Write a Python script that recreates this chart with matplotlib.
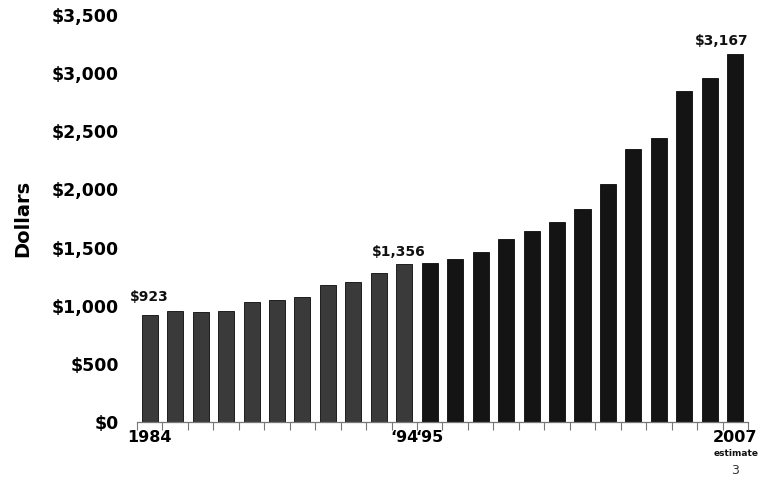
import numpy as np
import matplotlib.pyplot as plt

# average cost per year, 1984 - 2007 (2007 is an estimate)
years = list(range(1984, 2008))
costs = [923, 956, 942, 956, 1031, 1051, 1077, 1174, 1206, 1284, 1356,
         1369, 1406, 1458, 1575, 1644, 1721, 1830, 2045, 2348, 2443,
         2847, 2961, 3167]
tick_labels = {1984: '1984', 1994: '\u201894', 1995: '\u201895', 2007: '2007'}
callouts = {1984: '$923', 1994: '$1,356', 2007: '$3,167'}
y_ticks = [0, 500, 1000, 1500, 2000, 2500, 3000, 3500]

fig = plt.figure(figsize=(7.59, 4.80), dpi=100)
ax = fig.add_axes([0.1805, 0.1208, 0.805, 0.848])

x = np.arange(len(years))
colors = ['#3a3a3a' if y <= 1994 else '#141414' for y in years]
ax.bar(x, costs, width=0.63, color=colors, edgecolor='#0a0a0a', linewidth=0.6)

# callout labels: small nudges so they sit like the original
shift = {1984: (0.0, 90), 1994: (-0.2, 45), 2007: (-0.55, 45)}
for yr, txt in callouts.items():
    i = years.index(yr)
    dx, dy = shift[yr]
    ax.text(x[i] + dx, costs[i] + dy, txt, ha='center', va='bottom',
            fontsize=10, fontweight='bold', color='#111111')

ax.set_xlim(-0.5, len(years) - 0.5)
ax.set_ylim(0, 3500)

# tick marks between the bars, labels under selected bars
ax.set_xticks(np.arange(-0.5, len(years)), minor=True)
ax.set_xticks([years.index(y) for y in tick_labels])
ax.set_xticklabels(list(tick_labels.values()), fontsize=11.5, fontweight='bold')
ax.tick_params(axis='x', which='major', length=0, pad=6)
ax.tick_params(axis='x', which='minor', length=6, width=0.8, color='#777777')

ax.set_yticks(y_ticks)
ax.set_yticklabels(['${:,}'.format(v) for v in y_ticks], fontsize=12.5, fontweight='bold')
ax.tick_params(axis='y', length=0, pad=13)
ax.set_ylabel('Dollars', fontsize=14, fontweight='bold', labelpad=14)

for s in ['top', 'right', 'left']:
    ax.spines[s].set_visible(False)
ax.spines['bottom'].set_color('#777777')
ax.spines['bottom'].set_linewidth(0.9)

fig.text(736 / 759, 1 - 453 / 480, 'estimate', ha='center', va='center',
         fontsize=6.5, fontweight='bold', color='#111111')
fig.text(735 / 759, 1 - 471 / 480, '3', ha='center', va='center',
         fontsize=9, color='#333333')

fig.savefig('out.png', dpi=100)
